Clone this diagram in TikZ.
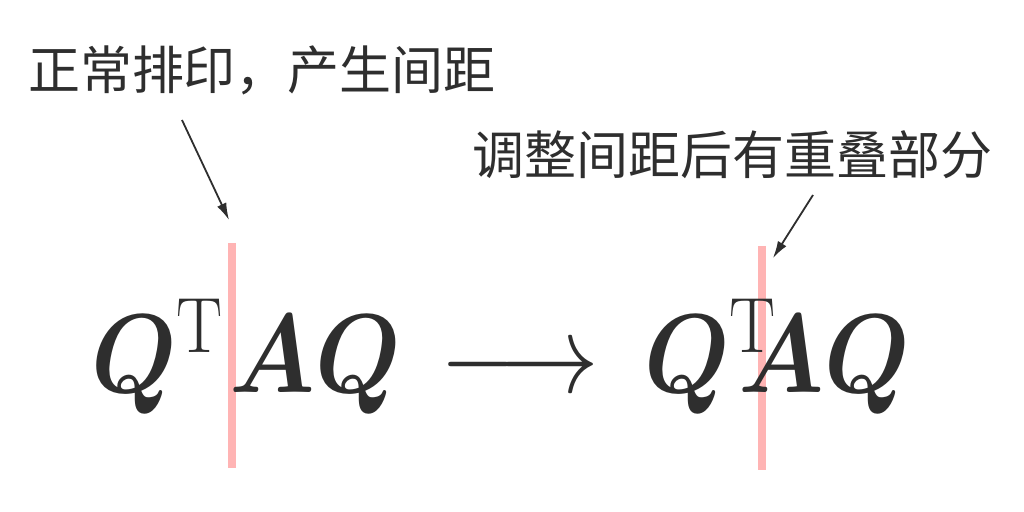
\RequirePackage{fix-cm}
\documentclass[tikz,border=0pt]{standalone}
\usepackage{amsmath,bm}
\usepackage{fontspec}
\newfontfamily\cjk{Noto Sans CJK SC}
\usetikzlibrary{arrows.meta,positioning}
\definecolor{inkgray}{HTML}{2E2E2E}
\definecolor{markpink}{HTML}{FFB4B4}
\newcommand{\narrowmath}[1]{\scalebox{0.88}[1]{$#1$}}

\begin{document}
\begin{tikzpicture}[x=0.5pt, y=-0.5pt,
    note/.style={text=inkgray, font=\cjk\fontsize{26}{30}\selectfont, inner sep=0pt},
    formula/.style={text=inkgray, font=\fontsize{56}{60}\selectfont, inner sep=0pt, anchor=base},
    pointer/.style={draw=inkgray, line width=0.9pt, -{Latex[length=8.5pt,width=5pt]}},
    gapmark/.style={draw=markpink, line width=4pt}]
    \useasboundingbox (0,0) rectangle (1024,512);
    % spacing markers
    \draw[gapmark] (232,243) coordinate (gaptop) -- (232,468) coordinate (gapbot);
    \draw[gapmark] (762,246) coordinate (overtop) -- (762,470) coordinate (overbot);
    % formulas
    \node[formula] (before) at (246,393) {\narrowmath{\bm{Q}^{\mathrm{T}}\mkern1mu\bm{AQ}}};
    \node[formula] (maps) at (520,393) {\narrowmath{\longrightarrow}};
    \node[formula] (after) at (777,393) {\narrowmath{\bm{Q}^{\mathrm{T}}\mkern-7mu\bm{AQ}}};
    % notes
    \node[note] (gapnote) at (262,70) {正常排印，产生间距};
    \node[note] (overnote) at (732,155) {调整间距后有重叠部分};
    % pointers
    \coordinate (gaptail) at (182,120);
    \coordinate (gaptip) at (229,220);
    \coordinate (overtail) at (813,195);
    \coordinate (overtip) at (773,258);
    \draw[pointer] (gaptail) -- (gaptip);
    \draw[pointer] (overtail) -- (overtip);
\end{tikzpicture}
\end{document}
